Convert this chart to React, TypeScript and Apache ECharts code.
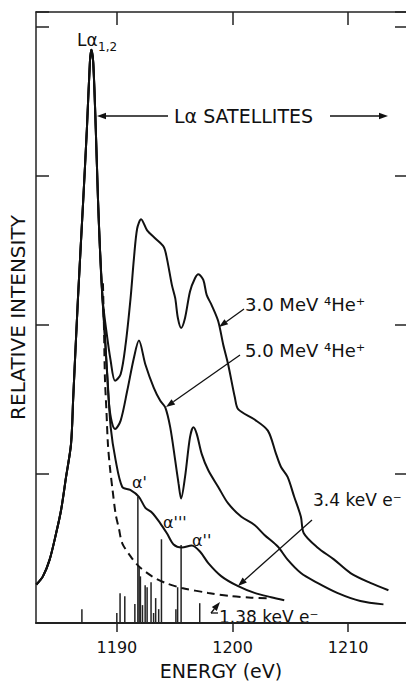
import React, { useEffect, useRef } from "react";
import * as echarts from "echarts";

// ---- data (energy eV, relative intensity) ----
const energyTicks = [1190, 1200, 1210];

const mainPeak: [number, number][] = [
  [1183.03, 0.258], [1183.6, 0.313], [1184.18, 0.425], [1184.74, 0.602], [1185.17, 0.758],
  [1185.6, 0.98], [1186.03, 1.202], [1186.22, 1.513], [1186.63, 2.18], [1187.09, 2.847],
  [1187.4, 3.313], [1187.66, 3.76], [1187.78, 3.847], [1187.95, 3.76], [1188.17, 3.313],
  [1188.36, 2.847], [1188.53, 2.513], [1188.75, 2.18],
];

const tail3MeV: [number, number][] = [
  [1189.05, 1.98], [1189.46, 1.758], [1189.84, 1.625], [1190.32, 1.669], [1190.75, 1.869],
  [1191.18, 2.18], [1191.47, 2.447], [1191.75, 2.647], [1192.09, 2.709], [1192.61, 2.635],
  [1193.32, 2.58], [1194.04, 2.525], [1194.32, 2.447], [1194.75, 2.269], [1195.04, 2.18],
  [1195.27, 2.047], [1195.55, 1.98], [1195.89, 2.047], [1196.32, 2.225], [1196.75, 2.313],
  [1197.04, 2.34], [1197.47, 2.302], [1197.76, 2.202], [1198.18, 2.135], [1198.76, 2.025],
  [1199.19, 1.869], [1199.62, 1.735], [1200.2, 1.513], [1200.5, 1.433], [1201.87, 1.367],
  [1203.05, 1.291], [1203.76, 1.135], [1204.19, 1.047], [1204.76, 0.98], [1205.33, 0.847],
  [1205.91, 0.713], [1206.16, 0.602], [1207.34, 0.507], [1208.76, 0.427], [1210.2, 0.335],
  [1211.91, 0.269], [1213.48, 0.22],
];

const tail5MeV: [number, number][] = [
  [1188.95, 1.947], [1189.12, 1.713], [1189.32, 1.469], [1189.56, 1.347], [1189.84, 1.302],
  [1190.32, 1.358], [1190.89, 1.558], [1191.47, 1.78], [1191.9, 1.895], [1192.46, 1.735],
  [1193.18, 1.58], [1193.75, 1.491], [1194.18, 1.447], [1194.61, 1.313], [1195.04, 1.091],
  [1195.33, 0.935], [1195.55, 0.835], [1195.89, 0.98], [1196.32, 1.247], [1196.61, 1.313],
  [1196.9, 1.269], [1197.33, 1.135], [1197.9, 1.025], [1198.76, 0.913], [1199.62, 0.802],
  [1200.76, 0.713], [1201.9, 0.658], [1202.76, 0.591], [1203.91, 0.513], [1204.76, 0.425],
  [1205.91, 0.335], [1207.34, 0.269], [1209.05, 0.202], [1211.05, 0.147], [1213.05, 0.125],
];

const tail34keV: [number, number][] = [
  [1188.96, 1.913], [1189.18, 1.647], [1189.46, 1.313], [1189.89, 1.091], [1190.46, 0.913],
  [1191.15, 0.893], [1191.9, 0.847], [1192.46, 0.773], [1193.04, 0.74], [1193.75, 0.669],
  [1194.32, 0.602], [1194.9, 0.527], [1195.61, 0.507], [1196.47, 0.52], [1197.18, 0.48],
  [1197.9, 0.402], [1199.04, 0.313], [1200.48, 0.247], [1201.9, 0.202], [1203.33, 0.173],
  [1204.47, 0.153],
];

const curve138keV: [number, number][] = [
  [1188.79, 2.28], [1188.88, 1.98], [1188.96, 1.647], [1189.09, 1.427], [1189.22, 1.2],
  [1189.39, 1.047], [1189.61, 0.9], [1189.89, 0.73], [1190.18, 0.63], [1190.46, 0.535],
  [1191.18, 0.447], [1191.9, 0.38], [1193.04, 0.313], [1194.18, 0.269], [1195.61, 0.235],
  [1197.9, 0.202], [1199.9, 0.18], [1201.62, 0.17], [1203.05, 0.165],
];

const stickEnergies = [
  1186.97, 1189.99, 1190.27, 1190.68, 1191.55, 1191.81, 1191.92, 1192.03, 1192.21, 1192.44,
  1192.61, 1192.95, 1193.17, 1193.35, 1193.61, 1193.85, 1195.1, 1195.25, 1195.55, 1197.16,
];
const stickIntensities = [
  0.093, 0.067, 0.2, 0.18, 0.127, 0.847, 0.38, 0.313, 0.12, 0.253,
  0.24, 0.273, 0.067, 0.167, 0.093, 0.562, 0.093, 0.24, 0.524, 0.133,
];

const FONT = "DejaVu Sans";
const INK = "#111";

function arrow(x1: number, y1: number, x2: number, y2: number) {
  const dx = x2 - x1, dy = y2 - y1;
  const len = Math.hypot(dx, dy);
  const ux = dx / len, uy = dy / len;
  const L = 9, W = 3.2;
  const bx = x2 - ux * L, by = y2 - uy * L;
  return [
    { type: "line", shape: { x1, y1, x2: bx, y2: by }, style: { stroke: INK, lineWidth: 1.3 } },
    {
      type: "polygon",
      shape: { points: [[x2, y2], [bx - uy * W, by + ux * W], [bx + uy * W, by - ux * W]] },
      style: { fill: INK },
    },
  ];
}

function label(text: string, x: number, y: number, fontSize: number) {
  return {
    type: "text",
    x,
    y,
    style: { text, fontSize, fontFamily: FONT, fill: INK, align: "left", verticalAlign: "middle" },
  };
}

export default function App() {
  const ref = useRef<HTMLDivElement>(null);
  useEffect(() => {
    if (!ref.current) return;
    const chart = echarts.init(ref.current, undefined, { renderer: "svg" });
    const lineBase = {
      type: "line",
      showSymbol: false,
      symbol: "none",
      smooth: 0.3,
      xAxisIndex: 0,
      yAxisIndex: 0,
      z: 3,
    };
    const option: any = {
      animation: false,
      backgroundColor: "#fff",
      textStyle: { fontFamily: FONT },
      grid: { left: 33, top: 12, right: 0, bottom: 58 },
      xAxis: [
        {
          type: "value",
          min: 1183,
          max: 1215,
          position: "bottom",
          name: "ENERGY (eV)",
          nameLocation: "middle",
          nameGap: 38,
          nameTextStyle: { fontSize: 19, color: INK, fontFamily: FONT },
          axisLine: { show: true, onZero: false, lineStyle: { color: "#222", width: 2 } },
          axisTick: { show: true, inside: false, length: 9, customValues: energyTicks, lineStyle: { color: "#222", width: 1.5 } },
          axisLabel: {
            show: true,
            customValues: energyTicks,
            formatter: (v: number) => String(v),
            fontSize: 16,
            color: INK,
            margin: 16,
            fontFamily: FONT,
          },
          splitLine: { show: false },
        },
        {
          type: "value",
          min: 1183,
          max: 1215,
          position: "top",
          axisLine: { show: true, onZero: false, lineStyle: { color: "#222", width: 1.5 } },
          axisTick: { show: true, inside: true, length: 13, customValues: energyTicks, lineStyle: { color: "#222", width: 1.5 } },
          axisLabel: { show: false },
          splitLine: { show: false },
        },
      ],
      yAxis: [
        {
          type: "value",
          min: 0,
          max: 4.1,
          interval: 1,
          position: "left",
          name: "RELATIVE INTENSITY",
          nameLocation: "middle",
          nameGap: 8,
          nameRotate: 90,
          nameTextStyle: { fontSize: 20, color: INK, fontFamily: FONT },
          axisLine: { show: true, onZero: false, lineStyle: { color: "#222", width: 1.5 } },
          axisTick: { show: true, inside: true, length: 13, lineStyle: { color: "#222", width: 1.5 } },
          axisLabel: { show: false },
          splitLine: { show: false },
        },
        {
          type: "value",
          min: 0,
          max: 4.1,
          interval: 1,
          position: "right",
          axisLine: { show: false },
          axisTick: { show: true, inside: true, length: 11, lineStyle: { color: "#222", width: 1.5 } },
          axisLabel: { show: false },
          splitLine: { show: false },
        },
      ],
      series: [
        {
          type: "bar",
          xAxisIndex: 0,
          yAxisIndex: 0,
          barWidth: 1.5,
          itemStyle: { color: "#222" },
          data: stickEnergies.map((e, i) => [e, stickIntensities[i]]),
          z: 2,
        },
        { ...lineBase, name: "3.0 MeV", data: [...mainPeak, ...tail3MeV], lineStyle: { color: INK, width: 2 } },
        { ...lineBase, name: "5.0 MeV", data: [...mainPeak, ...tail5MeV], lineStyle: { color: INK, width: 2 } },
        { ...lineBase, name: "3.4 keV", data: [...mainPeak, ...tail34keV], lineStyle: { color: INK, width: 2 } },
        {
          ...lineBase,
          name: "1.38 keV",
          data: curve138keV,
          lineStyle: { color: INK, width: 2, type: [8, 5] },
        },
      ],
      graphic: [
        label("Lα", 77, 40, 17),
        label("1,2", 98, 47, 12),
        ...arrow(168, 116, 97, 116),
        label("Lα SATELLITES", 174, 116, 19),
        ...arrow(330, 116, 388, 116),
        label("3.0 MeV ⁴He⁺", 245, 304, 18),
        ...arrow(244, 309, 219, 327),
        label("5.0 MeV ⁴He⁺", 245, 350, 18),
        ...arrow(240, 355, 166, 407),
        label("3.4 keV e⁻", 313, 500, 17),
        ...arrow(312, 520, 238, 586),
        label("1.38 keV e⁻", 219, 617, 17),
        { type: "line", shape: { x1: 211, y1: 613, x2: 218, y2: 613 }, style: { stroke: INK, lineWidth: 1.3 } },
        ...arrow(211, 613, 220, 602),
        label("α'", 132, 482, 16),
        label("α'''", 163, 522, 16),
        label("α''", 192, 540, 16),
      ],
    };
    chart.setOption(option);
    return () => chart.dispose();
  }, []);
  return (
    <div
      ref={ref}
      style={{ position: "fixed", left: 0, top: 0, width: 406, height: 685, background: "#fff" }}
    />
  );
}
